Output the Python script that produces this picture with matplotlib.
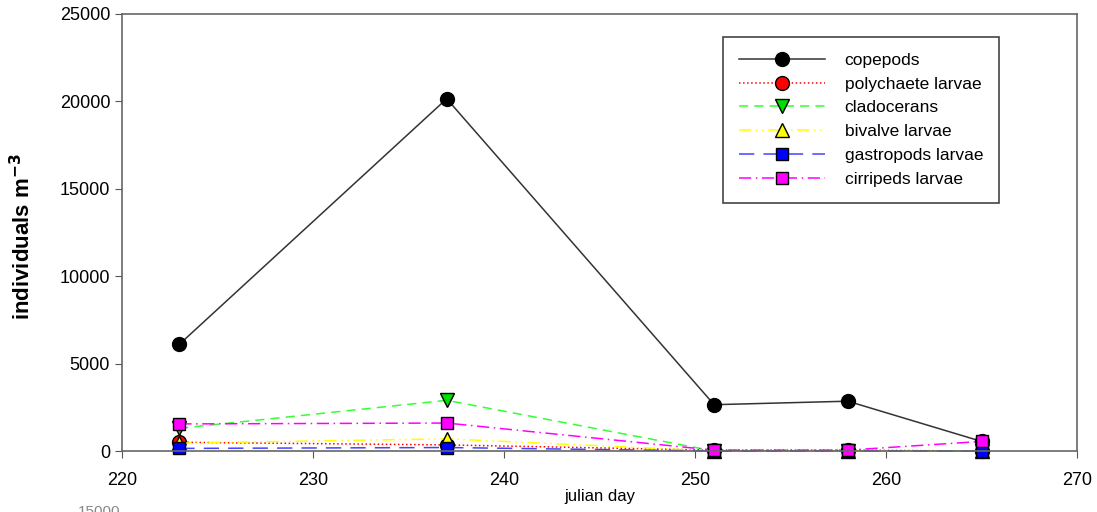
import matplotlib.pyplot as plt

plt.rcParams["font.family"] = ["Liberation Sans", "DejaVu Sans"]
plt.rcParams["axes.unicode_minus"] = False

days = [223, 237, 251, 258, 265]
copepods = [6100, 20150, 2650, 2850, 550]
polychaete = [500, 350, 50, 50, 0]
cladocerans = [1300, 2900, 0, 0, 0]
bivalve = [450, 700, 0, 0, 0]
gastropods = [150, 200, 0, 0, 0]
cirripeds = [1550, 1600, 50, 50, 550]

x_ticks = [220, 230, 240, 250, 260, 270]
y_ticks = [0, 5000, 10000, 15000, 20000, 25000]

fig = plt.figure(figsize=(10.97, 5.12), dpi=100)
ax = fig.add_axes([0.1112, 0.1191, 0.8706, 0.8536])

series = [
    ("copepods", copepods, "#333333", "-", "o", "black", 10),
    ("polychaete larvae", polychaete, "red", ":", "o", "red", 10),
    ("cladocerans", cladocerans, "#33ff33", (0, (6, 4)), "v", "#00dd00", 10),
    ("bivalve larvae", bivalve, "yellow", (0, (8, 3, 1, 3, 1, 3)), "^", "yellow", 10),
    ("gastropods larvae", gastropods, "#4444ff", (0, (10, 6)), "s", "blue", 9),
    ("cirripeds larvae", cirripeds, "magenta", (0, (8, 3, 1, 3)), "s", "magenta", 9),
]

for name, vals, col, ls, mk, fc, ms in series:
    ax.plot(days, vals, color=col, linestyle=ls, linewidth=1.1, marker=mk,
            markersize=ms, markerfacecolor=fc, markeredgecolor="black",
            markeredgewidth=1.0, label=name, clip_on=False)

ax.set_xlim(220, 270)
ax.set_ylim(0, 25000)
ax.set_xticks(x_ticks)
ax.set_yticks(y_ticks)
ax.tick_params(labelsize=13, color="#555555", length=5, direction="out")
ax.tick_params(axis="x", pad=10)
for s in ax.spines.values():
    s.set_color("#666666")
    s.set_linewidth(1.2)

ax.set_xlabel("julian day", fontsize=12, labelpad=0)
ax.set_ylabel("individuals m$^{\\mathbf{-3}}$", fontsize=16, fontweight="bold")
ax.yaxis.set_label_coords(-0.091, 0.49)

leg = ax.legend(loc="upper left", bbox_to_anchor=(723 / 1097, 1 - 37 / 512),
                bbox_transform=fig.transFigure, borderaxespad=0, fontsize=12.5,
                handlelength=5.0, handletextpad=1.1, borderpad=0.9, labelspacing=0.5,
                fancybox=False, edgecolor="#444444", framealpha=1)
leg.get_frame().set_linewidth(1.2)

fig.text(0.071, -0.008, "15000", fontsize=11, color="#888888")

fig.savefig("out.png", dpi=100)
